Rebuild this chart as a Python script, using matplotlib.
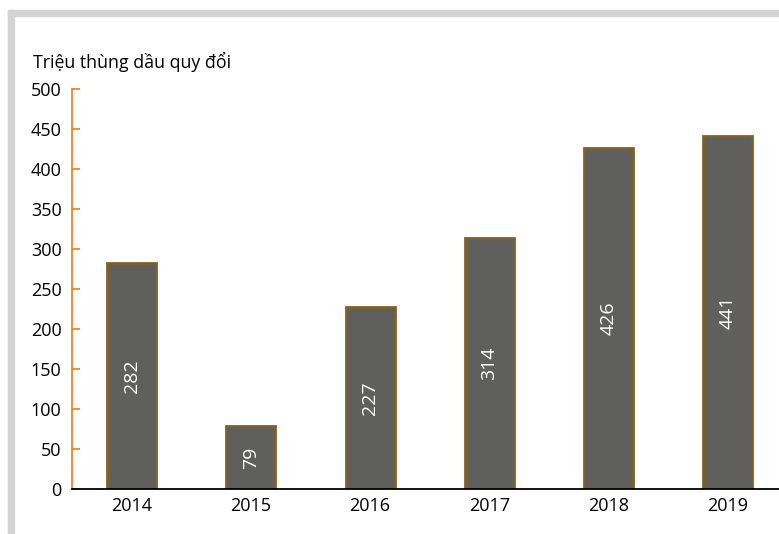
import matplotlib.pyplot as plt
from matplotlib.patches import Rectangle

# Data
years = ["2014", "2015", "2016", "2017", "2018", "2019"]
values = [282, 79, 227, 314, 426, 441]
yticks = [0, 50, 100, 150, 200, 250, 300, 350, 400, 450, 500]

plt.rcParams['font.family'] = ['Open Sans', 'DejaVu Sans']

fig = plt.figure(figsize=(7.79, 5.34), dpi=100)

# gray frame (top and left edges visible)
fig.patches.append(Rectangle((8 / 779, 0), 6 / 779, 1 - 10 / 534, transform=fig.transFigure,
                             color='#d4d4d4', zorder=0))
fig.patches.append(Rectangle((8 / 779, 1 - 16 / 534), 1, 6 / 534, transform=fig.transFigure,
                             color='#d4d4d4', zorder=0))

ax = fig.add_axes([72 / 779, 1 - 489 / 534, 1 - 72 / 779, 400 / 534])
x = range(len(years))
bars = ax.bar(x, values, width=0.41, color='#5f605e', edgecolor='#7f6129', linewidth=2, zorder=2)

for xi, v in zip(x, values):
    ax.text(xi, v / 2, str(v), rotation=90, ha='center', va='center',
            color='white', fontsize=14, zorder=3)

ax.set_xlim(-0.5, 5.43)
ax.set_ylim(0, 500)
ax.set_yticks(yticks)
ax.set_xticks(list(x))
ax.set_xticklabels(years)

for s in ['top', 'right']:
    ax.spines[s].set_visible(False)
ax.spines['left'].set_color('#f08236')
ax.spines['left'].set_linewidth(1.3)
ax.spines['bottom'].set_color('black')
ax.spines['bottom'].set_linewidth(1.3)
ax.spines['bottom'].set_zorder(4)

ax.tick_params(axis='y', direction='in', length=6, color='#f08236', width=1.3,
               labelsize=13, pad=7.5)
ax.tick_params(axis='x', length=0, labelsize=13, pad=6)

fig.text(33 / 779, 1 - 62 / 534, "Triệu thùng dầu quy đổi", fontsize=12.8,
         ha='left', va='center')

fig.savefig("out.png", dpi=100)
